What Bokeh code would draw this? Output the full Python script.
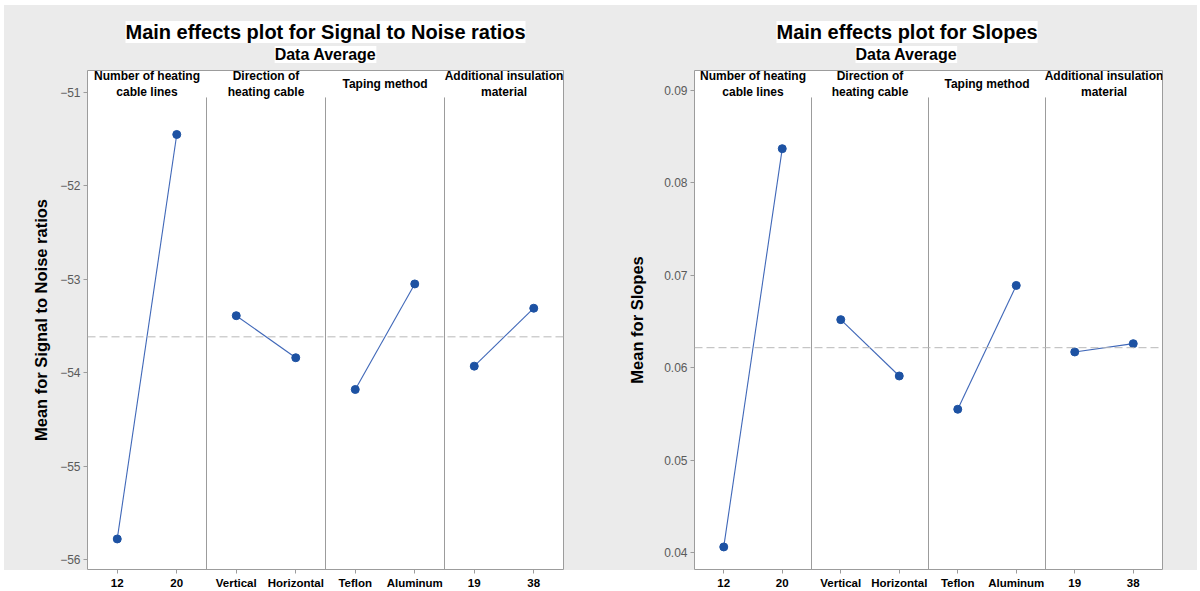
import numpy as np
from bokeh.plotting import figure
from bokeh.layouts import row
from bokeh.models import Range1d, FixedTicker, Span, Title
from bokeh.core.properties import value
from bokeh.embed import file_html
from bokeh.resources import INLINE

# ---------------- data ----------------
factors = ["Number of heating\ncable lines", "Direction of\nheating cable",
           "Taping method", "Additional insulation\nmaterial"]
levels = [["12", "20"], ["Vertical", "Horizontal"], ["Teflon", "Aluminum"], ["19", "38"]]
sn_means = [[-55.78, -51.45], [-53.39, -53.84], [-54.18, -53.05], [-53.93, -53.31]]
slope_means = [[0.0406, 0.0837], [0.0652, 0.0591], [0.0555, 0.0689], [0.0617, 0.0626]]
sn_ticks = [-56, -55, -54, -53, -52, -51]
slope_ticks = [0.04, 0.05, 0.06, 0.07, 0.08, 0.09]

FONT = "Liberation Sans"
BG = "#ebebeb"
FRAME_LINE = "#9c9c9c"
LINE_C = "#3f67b8"
DOT_C = "#1d52a3"
H = 591
FRAME_TOP = 70
FRAME_BOTTOM = 570


def make_panel(means, title, ylabel, yr, yticks, width, mb_left, mb_right,
               title_align, title_off, sub_off, ylab_standoff):
    p = figure(width=width, height=H, x_range=Range1d(0, 8), y_range=Range1d(*yr),
               output_backend="svg", toolbar_location=None,
               min_border_left=mb_left, min_border_right=mb_right,
               min_border_top=FRAME_TOP, min_border_bottom=H - FRAME_BOTTOM)
    p.border_fill_color = None
    p.background_fill_color = "white"
    p.outline_line_color = FRAME_LINE
    p.outline_line_width = 1
    p.grid.visible = False

    # x axis
    tick_pos, overrides = [], {}
    for i, lv in enumerate(levels):
        for j, name in enumerate(lv):
            x = 2 * i + 0.5 + j
            tick_pos.append(x)
            overrides[x] = name
    p.xaxis.ticker = FixedTicker(ticks=tick_pos)
    p.xaxis.major_label_overrides = overrides
    p.xaxis.major_label_text_font = FONT
    p.xaxis.major_label_text_font_style = "bold"
    p.xaxis.major_label_text_font_size = "11.5px"
    p.xaxis.major_label_text_color = "black"
    p.xaxis.major_label_standoff = 3
    p.xaxis.major_tick_out = 4
    p.xaxis.major_tick_in = 0
    p.xaxis.minor_tick_line_color = None
    p.xaxis.major_tick_line_color = FRAME_LINE
    p.xaxis.axis_line_color = None

    # y axis
    p.yaxis.ticker = FixedTicker(ticks=yticks)
    p.yaxis.major_label_text_font = FONT
    p.yaxis.major_label_text_font_size = "12px"
    p.yaxis.major_label_text_color = "#5a5a5a"
    p.yaxis.major_label_standoff = 3
    p.yaxis.major_tick_out = 4
    p.yaxis.major_tick_in = 0
    p.yaxis.minor_tick_line_color = None
    p.yaxis.major_tick_line_color = FRAME_LINE
    p.yaxis.axis_line_color = None
    p.yaxis.axis_label = ylabel
    p.yaxis.axis_label_text_font = FONT
    p.yaxis.axis_label_text_font_style = "bold"
    p.yaxis.axis_label_text_font_size = "16.5px"
    p.yaxis.axis_label_text_color = "black"
    p.yaxis.axis_label_standoff = ylab_standoff

    # facet separators (below header band)
    ppu = (FRAME_BOTTOM - FRAME_TOP) / (yr[1] - yr[0])
    sep_top = yr[1] - 27.0 / ppu
    p.segment(x0=[2, 4, 6], x1=[2, 4, 6], y0=[yr[0]] * 3, y1=[sep_top] * 3,
              line_color=FRAME_LINE, line_width=1)

    # facet headers
    p.text(x=[2 * i + 1 for i in range(4)], y=[yr[1]] * 4, text=factors,
           text_font=value(FONT), text_font_style="bold", text_font_size="12px",
           text_color="black", text_align="center", text_baseline="middle",
           y_offset=13.5, text_line_height=1.2)

    # grand mean reference line
    gm = float(np.mean(means))
    p.add_layout(Span(location=gm, dimension="width", line_color="#b8b8b8",
                      line_dash="8 4", line_width=1))

    # main effects
    xs, ys = [], []
    for i, m in enumerate(means):
        x = [2 * i + 0.5, 2 * i + 1.5]
        p.line(x, m, line_color=LINE_C, line_width=1.1)
        xs += x
        ys += m
    p.scatter(xs, ys, size=8, fill_color=DOT_C, line_color=DOT_C)

    # titles (subtitle first = closest to the frame)
    p.add_layout(Title(text="Data Average", align=title_align, offset=sub_off,
                       text_font=FONT, text_font_style="bold", text_font_size="16px",
                       text_color="black", background_fill_color="white",
                       standoff=15), "above")
    p.add_layout(Title(text=title, align=title_align, offset=title_off,
                       text_font=FONT, text_font_style="bold", text_font_size="20px",
                       text_color="black", background_fill_color="white",
                       standoff=-13), "above")
    return p


left = make_panel(sn_means, "Main effects plot for Signal to Noise ratios",
                  "Mean for Signal to Noise ratios", (-56.107, -50.765), sn_ticks,
                  600, 87, 37, "center", 0, 0, 7)
right = make_panel(slope_means, "Main effects plot for Slopes", "Mean for Slopes",
                   (0.03816, 0.09216), slope_ticks, 600, 94, 38, "left", 82, 161, 15)

layout = row(left, right, spacing=0,
             styles={"background":
                     "linear-gradient(to right, #ffffff 0px, #ffffff 4px, transparent 4px, "
                     "transparent 1197px, #ffffff 1197px), "
                     "linear-gradient(to bottom, #ffffff 0px, #ffffff 5px, "
                     "#ebebeb 5px, #ebebeb 570px, #ffffff 570px)"})
open("out.html", "w").write(file_html(layout, INLINE))
